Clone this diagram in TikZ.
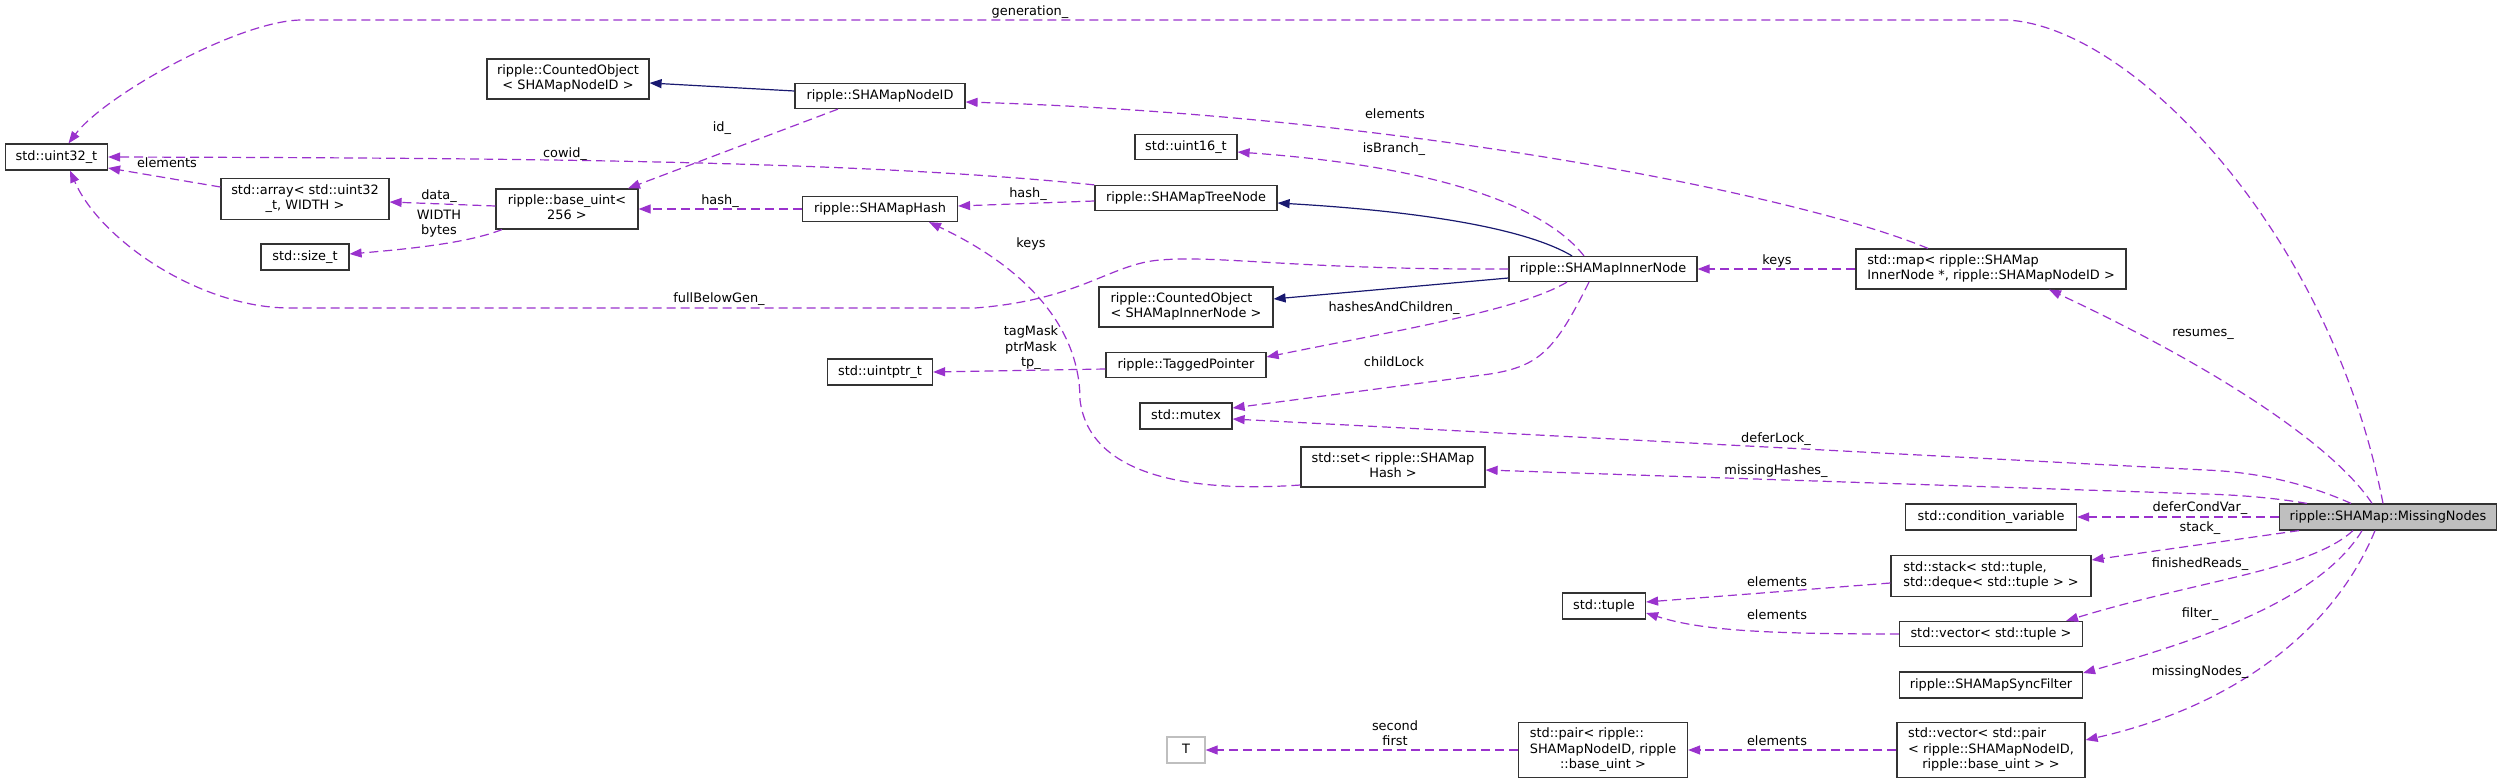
\documentclass[tikz,border=0pt]{standalone}
\usepackage{fontspec}
\setmainfont{DejaVu Sans}
\usetikzlibrary{arrows.meta}
\definecolor{edgec}{HTML}{9A32CD}
\definecolor{navyc}{HTML}{191970}
\definecolor{grayf}{HTML}{BFBFBF}
\definecolor{boxc}{HTML}{333333}
\newcommand{\ntab}[1]{\begin{tabular}{@{}l@{}}#1\end{tabular}}
\newcommand{\ctab}[1]{\begin{tabular}{@{}c@{}}#1\end{tabular}}
\newcommand{\nlast}[1]{\multicolumn{1}{@{}c@{}}{#1}}
\tikzset{
  box/.style={draw=boxc, line width=1.2pt, inner sep=0pt, minimum height=25pt},
  ed/.style={draw=edgec, line width=1.2pt, dash pattern=on 9pt off 5pt, -{Triangle[length=12pt,width=9pt]}},
  inh/.style={draw=navyc, line width=1.2pt, -{Triangle[length=12pt,width=9pt]}},
  lab/.style={inner sep=0pt}
}
\begin{document}
\begin{tikzpicture}[x=1pt,y=-1pt,font=\fontsize{12.9}{15.5}\selectfont]
\useasboundingbox (0,0) rectangle (2503,784);
% nodes
\node[box, minimum width=102pt, minimum height=26pt] (u32) at (56.5,157) {\ntab{std::uint32\_t}};
\node[box, minimum width=162pt, minimum height=40pt] (coNID) at (568,79) {\ntab{ripple::CountedObject\\ \nlast{< SHAMapNodeID >}}};
\node[box, minimum width=170pt] (nid) at (880,96) {\ntab{ripple::SHAMapNodeID}};
\node[box, minimum width=168pt, minimum height=41pt] (arr) at (305,199) {\ntab{std::array< std::uint32\\ \nlast{\_t, WIDTH >}}};
\node[box, minimum width=142pt, minimum height=40pt] (bu) at (567,209) {\ntab{ripple::base\_uint<\\ \nlast{256 >}}};
\node[box, minimum width=88pt, minimum height=26pt] (sz) at (305,257) {\ntab{std::size\_t}};
\node[box, minimum width=155pt] (hsh) at (880,209) {\ntab{ripple::SHAMapHash}};
\node[box, minimum width=105pt, minimum height=26pt] (uptr) at (880,372) {\ntab{std::uintptr\_t}};
\node[box, minimum width=102pt] (u16) at (1186,147) {\ntab{std::uint16\_t}};
\node[box, minimum width=182pt] (tn) at (1186,198) {\ntab{ripple::SHAMapTreeNode}};
\node[box, minimum width=188pt] (inn) at (1603,269) {\ntab{ripple::SHAMapInnerNode}};
\node[box, minimum width=174pt, minimum height=40pt] (coIN) at (1186,307) {\ntab{ripple::CountedObject\\ \nlast{< SHAMapInnerNode >}}};
\node[box, minimum width=160pt] (tp) at (1186,365) {\ntab{ripple::TaggedPointer}};
\node[box, minimum width=92pt, minimum height=26pt] (mtx) at (1186,416) {\ntab{std::mutex}};
\node[box, minimum width=184pt, minimum height=40pt] (set) at (1393,467) {\ntab{std::set< ripple::SHAMap\\ \nlast{Hash >}}};
\node[box, minimum width=270pt, minimum height=40pt] (map) at (1991,269) {\ntab{std::map< ripple::SHAMap\\ \nlast{InnerNode *, ripple::SHAMapNodeID >}}};
\node[box, fill=grayf, minimum width=217pt, minimum height=26pt] (ms) at (2388,517) {\ntab{ripple::SHAMap::MissingNodes}};
\node[box, minimum width=171pt, minimum height=26pt] (cv) at (1991,517) {\ntab{std::condition\_variable}};
\node[box, minimum width=200pt, minimum height=41pt] (stk) at (1991,576) {\ntab{std::stack< std::tuple,\\ \nlast{std::deque< std::tuple > >}}};
\node[box, minimum width=83pt, minimum height=26pt] (tup) at (1604,606) {\ntab{std::tuple}};
\node[box, minimum width=183pt] (vtup) at (1991,634) {\ntab{std::vector< std::tuple >}};
\node[box, minimum width=183pt, minimum height=26pt] (sf) at (1991,685) {\ntab{ripple::SHAMapSyncFilter}};
\node[box, minimum width=188pt, minimum height=55pt] (vpair) at (1991,750) {\ntab{std::vector< std::pair\\ < ripple::SHAMapNodeID,\\ \nlast{ripple::base\_uint > >}}};
\node[box, minimum width=169pt, minimum height=55pt] (pair) at (1603,750) {\ntab{std::pair< ripple::\\ SHAMapNodeID, ripple\\ \nlast{::base\_uint >}}};
\node[box, draw=grayf, minimum width=38pt, minimum height=26pt] (T) at (1186,750) {\ntab{T}};
% edges
\draw[ed] ([xshift=-5pt]ms.north) .. controls (2330,230) and (2130,25) .. (2006,20) -- (302,20) .. controls (240,20) and (105,95) .. ([xshift=12pt]u32.north);
\draw[inh] ([yshift=5pt]nid.west) -- ([yshift=-4pt]coNID.east);
\draw[ed] ([xshift=-63pt]map.north) .. controls (1800,195) and (1400,115) .. ([yshift=-6pt]nid.east);
\draw[ed] ([xshift=-42pt]nid.south) -- ([xshift=61pt]bu.north);
\draw[ed] (tn.north west) .. controls (850,160) and (500,158) .. (u32.east);
\draw[ed] ([yshift=12pt]arr.west) -- ([yshift=-11pt]u32.east);
\draw[ed] ([yshift=3pt]bu.west) -- ([yshift=-3pt]arr.east);
\draw[ed] ([xshift=-65pt]bu.south) .. controls (470,242) and (420,248) .. ([yshift=3pt]sz.east);
\draw[ed] (hsh.west) -- (bu.east);
\draw[ed] ([yshift=-3pt]tn.west) -- ([yshift=3pt]hsh.east);
\draw[ed] ([yshift=-18pt]set.west) .. controls (1200,492) and (1090,480) .. (1080,400) .. controls (1080,330) and (1030,270) .. ([xshift=49pt]hsh.south);
\draw[ed] ([yshift=-4pt]tp.west) -- (uptr.east);
\draw[ed] (inn.west) .. controls (1300,270) and (1220,255) .. (1160,260) .. controls (1110,264) and (1080,300) .. (975,308) -- (290,308) .. controls (200,308) and (100,240) .. ([xshift=13.5pt]u32.south);
\draw[inh] ([xshift=-31pt]inn.north) .. controls (1520,225) and (1400,210) .. ([yshift=-5pt]tn.east);
\draw[ed] ([xshift=-19pt]inn.north) .. controls (1540,200) and (1420,165) .. ([yshift=-5pt]u16.east);
\draw[inh] ([yshift=-9pt]inn.west) -- ([yshift=8pt]coIN.east);
\draw[ed] ([xshift=-36pt]inn.south) .. controls (1520,310) and (1400,330) .. ([yshift=8pt]tp.east);
\draw[ed] ([xshift=-14pt]inn.south) .. controls (1555,350) and (1540,366) .. (1490,374) -- ([yshift=8pt]mtx.east);
\draw[ed] (map.west) -- (inn.east);
\draw[ed] ([xshift=-16pt]ms.north) .. controls (2330,440) and (2200,360) .. ([xshift=58pt]map.south);
\draw[ed] ([xshift=-37pt]ms.north) .. controls (2310,485) and (2260,472) .. (2205,470) -- ([yshift=-3pt]mtx.east);
\draw[ed] ([xshift=-81pt]ms.north) .. controls (2275,498) and (2240,495) .. (2205,494) -- ([yshift=-3pt]set.east);
\draw[ed] (ms.west) -- (cv.east);
\draw[ed] ([xshift=-89pt]ms.south) -- ([yshift=16pt]stk.east);
\draw[ed] ([yshift=-7pt]stk.west) -- ([yshift=4pt]tup.east);
\draw[ed] (vtup.west) .. controls (1760,634) and (1700,630) .. ([yshift=-7pt]tup.east);
\draw[ed] ([xshift=-35pt]ms.south) .. controls (2310,570) and (2200,580) .. ([xshift=75pt]vtup.north);
\draw[ed] ([xshift=-26pt]ms.south) .. controls (2320,600) and (2200,640) .. ([yshift=12pt]sf.east);
\draw[ed] ([xshift=-13pt]ms.south) .. controls (2330,640) and (2220,710) .. ([yshift=10pt]vpair.east);
\draw[ed] (vpair.west) -- (pair.east);
\draw[ed] (pair.west) -- (T.east);
% labels
\node[lab] (l1) at (1030,12) {\ctab{generation\_}};
\node[lab] (l2) at (1395,115) {\ctab{elements}};
\node[lab] (l3) at (722,128) {\ctab{id\_}};
\node[lab] (l4) at (565,154) {\ctab{cowid\_}};
\node[lab] (l5) at (167,164) {\ctab{elements}};
\node[lab] (l6) at (439,196) {\ctab{data\_}};
\node[lab] (l7) at (439,224) {\ctab{WIDTH\\bytes}};
\node[lab] (l8) at (720,201) {\ctab{hash\_}};
\node[lab] (l9) at (1028,194) {\ctab{hash\_}};
\node[lab] (l10) at (1031,244) {\ctab{keys}};
\node[lab] (l11) at (1031,348) {\ctab{tagMask\\ptrMask\\tp\_}};
\node[lab] (l12) at (719,299) {\ctab{fullBelowGen\_}};
\node[lab] (l13) at (1394,149) {\ctab{isBranch\_}};
\node[lab] (l14) at (1394,308) {\ctab{hashesAndChildren\_}};
\node[lab] (l15) at (1394,363) {\ctab{childLock}};
\node[lab] (l16) at (1777,261) {\ctab{keys}};
\node[lab] (l17) at (2203,333) {\ctab{resumes\_}};
\node[lab] (l18) at (1776,439) {\ctab{deferLock\_}};
\node[lab] (l19) at (1776,471) {\ctab{missingHashes\_}};
\node[lab] (l20) at (2200,508) {\ctab{deferCondVar\_}};
\node[lab] (l21) at (2200,528) {\ctab{stack\_}};
\node[lab] (l22) at (1777,583) {\ctab{elements}};
\node[lab] (l23) at (1777,616) {\ctab{elements}};
\node[lab] (l24) at (2200,564) {\ctab{finishedReads\_}};
\node[lab] (l25) at (2200,614) {\ctab{filter\_}};
\node[lab] (l26) at (2200,672) {\ctab{missingNodes\_}};
\node[lab] (l27) at (1777,742) {\ctab{elements}};
\node[lab] (l28) at (1395,735) {\ctab{second\\first}};
\end{tikzpicture}
\end{document}
